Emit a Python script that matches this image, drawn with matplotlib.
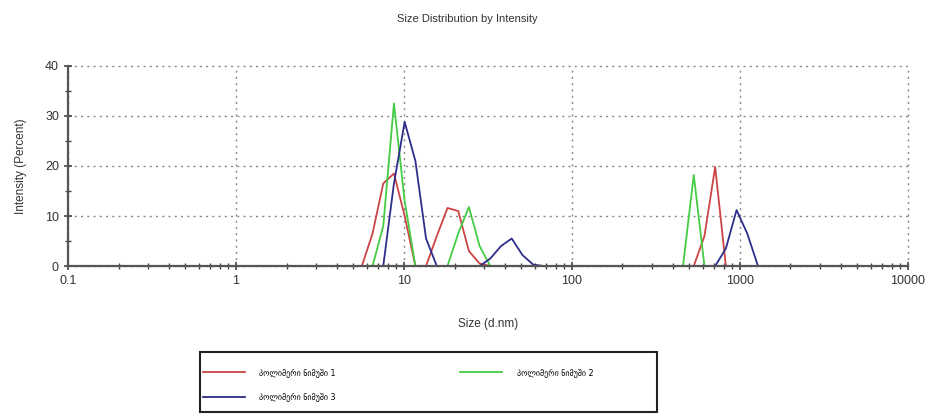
import matplotlib
matplotlib.use("Agg")
import matplotlib.pyplot as plt
from matplotlib.patches import Rectangle
from matplotlib.ticker import LogLocator, FixedLocator, NullFormatter

# Size classes (d.nm) of the distribution
sizes = [0.4, 0.4632, 0.5365, 0.6213, 0.7195, 0.8332, 0.9649, 1.117, 1.294, 1.499,
         1.736, 2.010, 2.328, 2.696, 3.122, 3.615, 4.187, 4.849, 5.615, 6.503,
         7.531, 8.721, 10.10, 11.70, 13.54, 15.69, 18.17, 21.04, 24.36, 28.21,
         32.67, 37.84, 43.82, 50.75, 58.77, 68.06, 78.82, 91.28, 105.7, 122.4,
         141.8, 164.2, 190.1, 220.2, 255.0, 295.3, 342.0, 396.1, 458.7, 531.2,
         615.1, 712.4, 825.0, 955.4, 1106, 1281, 1484, 1718, 1990, 2305,
         2669, 3091, 3580, 4145, 4801, 5560, 6439, 7456, 8635, 10000]

# Intensity (%) per size class
sample1 = [0, 0, 0, 0, 0, 0, 0, 0, 0, 0,
           0, 0, 0, 0, 0, 0, 0, 0, 0, 6.5,
           16.5, 18.5, 10.0, 0, 0, 6.0, 11.6, 11.0, 3.0, 0.5,
           0, 0, 0, 0, 0, 0, 0, 0, 0, 0,
           0, 0, 0, 0, 0, 0, 0, 0, 0, 0,
           6.0, 19.8, 0, 0, 0, 0, 0, 0, 0, 0,
           0, 0, 0, 0, 0, 0, 0, 0, 0, 0]
sample2 = [0, 0, 0, 0, 0, 0, 0, 0, 0, 0,
           0, 0, 0, 0, 0, 0, 0, 0, 0, 0,
           8.0, 32.5, 13.0, 0, 0, 0, 0, 6.5, 11.8, 4.0,
           0, 0, 0, 0, 0, 0, 0, 0, 0, 0,
           0, 0, 0, 0, 0, 0, 0, 0, 0, 18.2,
           0, 0, 0, 0, 0, 0, 0, 0, 0, 0,
           0, 0, 0, 0, 0, 0, 0, 0, 0, 0]
sample3 = [0, 0, 0, 0, 0, 0, 0, 0, 0, 0,
           0, 0, 0, 0, 0, 0, 0, 0, 0, 0,
           0, 16.5, 28.8, 21.0, 5.5, 0, 0, 0, 0, 0,
           1.5, 4.0, 5.5, 2.2, 0.3, 0, 0, 0, 0, 0,
           0, 0, 0, 0, 0, 0, 0, 0, 0, 0,
           0, 0, 3.5, 11.2, 6.5, 0, 0, 0, 0, 0,
           0, 0, 0, 0, 0, 0, 0, 0, 0, 0]

labels = ["პოლიმერი ნიმუში 1", "პოლიმერი ნიმუში 2", "პოლიმერი ნიმუში 3"]
x_ticks = [0.1, 1, 10, 100, 1000, 10000]
x_ticklabels = ["0.1", "1", "10", "100", "1000", "10000"]
y_ticks = [0, 10, 20, 30, 40]

plt.rcParams["font.family"] = ["Liberation Sans", "DejaVu Sans"]

fig = plt.figure(figsize=(9.35, 4.17), dpi=100)
ax = fig.add_axes([0.0727, 0.362, 0.8983, 0.480])

l1, = ax.plot(sizes, sample1, color="#cc4444", lw=1.3)
l2, = ax.plot(sizes, sample2, color="#44cc44", lw=1.3)
l3, = ax.plot(sizes, sample3, color="#2e2e8a", lw=1.3)

ax.set_xscale("log")
ax.set_xlim(0.1, 10000)
ax.set_ylim(0, 40)
ax.xaxis.set_major_locator(FixedLocator(x_ticks))
ax.set_xticklabels(x_ticklabels)
ax.xaxis.set_minor_locator(LogLocator(base=10, subs=range(2, 10)))
ax.xaxis.set_minor_formatter(NullFormatter())
ax.set_yticks(y_ticks)
ax.yaxis.set_minor_locator(FixedLocator([5, 15, 25, 35]))

ax.grid(True, which="major", linestyle=(0, (1.5, 3)), color="#888888", lw=1.0)
for gl in ax.get_xgridlines() + ax.get_ygridlines():
    gl.set_clip_on(False)
for s in ("top", "right"):
    ax.spines[s].set_visible(False)
for s in ("left", "bottom"):
    ax.spines[s].set_color("#555555")
    ax.spines[s].set_linewidth(1.6)

ax.tick_params(which="both", direction="inout", colors="#444444",
               labelcolor="#333333", labelsize=9)
ax.tick_params(which="major", length=6, width=1.2)
ax.tick_params(which="minor", length=4, width=1.0)

ax.set_xlabel("Size (d.nm)", fontsize=8.5, color="#333333", labelpad=22)
ax.set_ylabel("Intensity (Percent)", fontsize=8.5, color="#333333", labelpad=13)
fig.text(0.5, 0.955, "Size Distribution by Intensity", ha="center", va="center",
         fontsize=8, color="#333333")

# Legend box drawn in figure coordinates, entries placed inside it
fig.patches.append(Rectangle((0.214, 0.012), 0.489, 0.144, transform=fig.transFigure,
                             fill=False, edgecolor="#222222", lw=1.5))
leg = fig.legend([l1, l3, l2], [labels[0], labels[2], labels[1]], ncol=2,
                 loc="upper left", bbox_to_anchor=(0.215, 0.122),
                 frameon=False, handlelength=5.2, handletextpad=1.8,
                 columnspacing=15.5, borderaxespad=0, borderpad=0.2,
                 labelspacing=1.95, prop={"family": ["DejaVu Sans"], "size": 5.8})

fig.savefig("out.png", dpi=100)
